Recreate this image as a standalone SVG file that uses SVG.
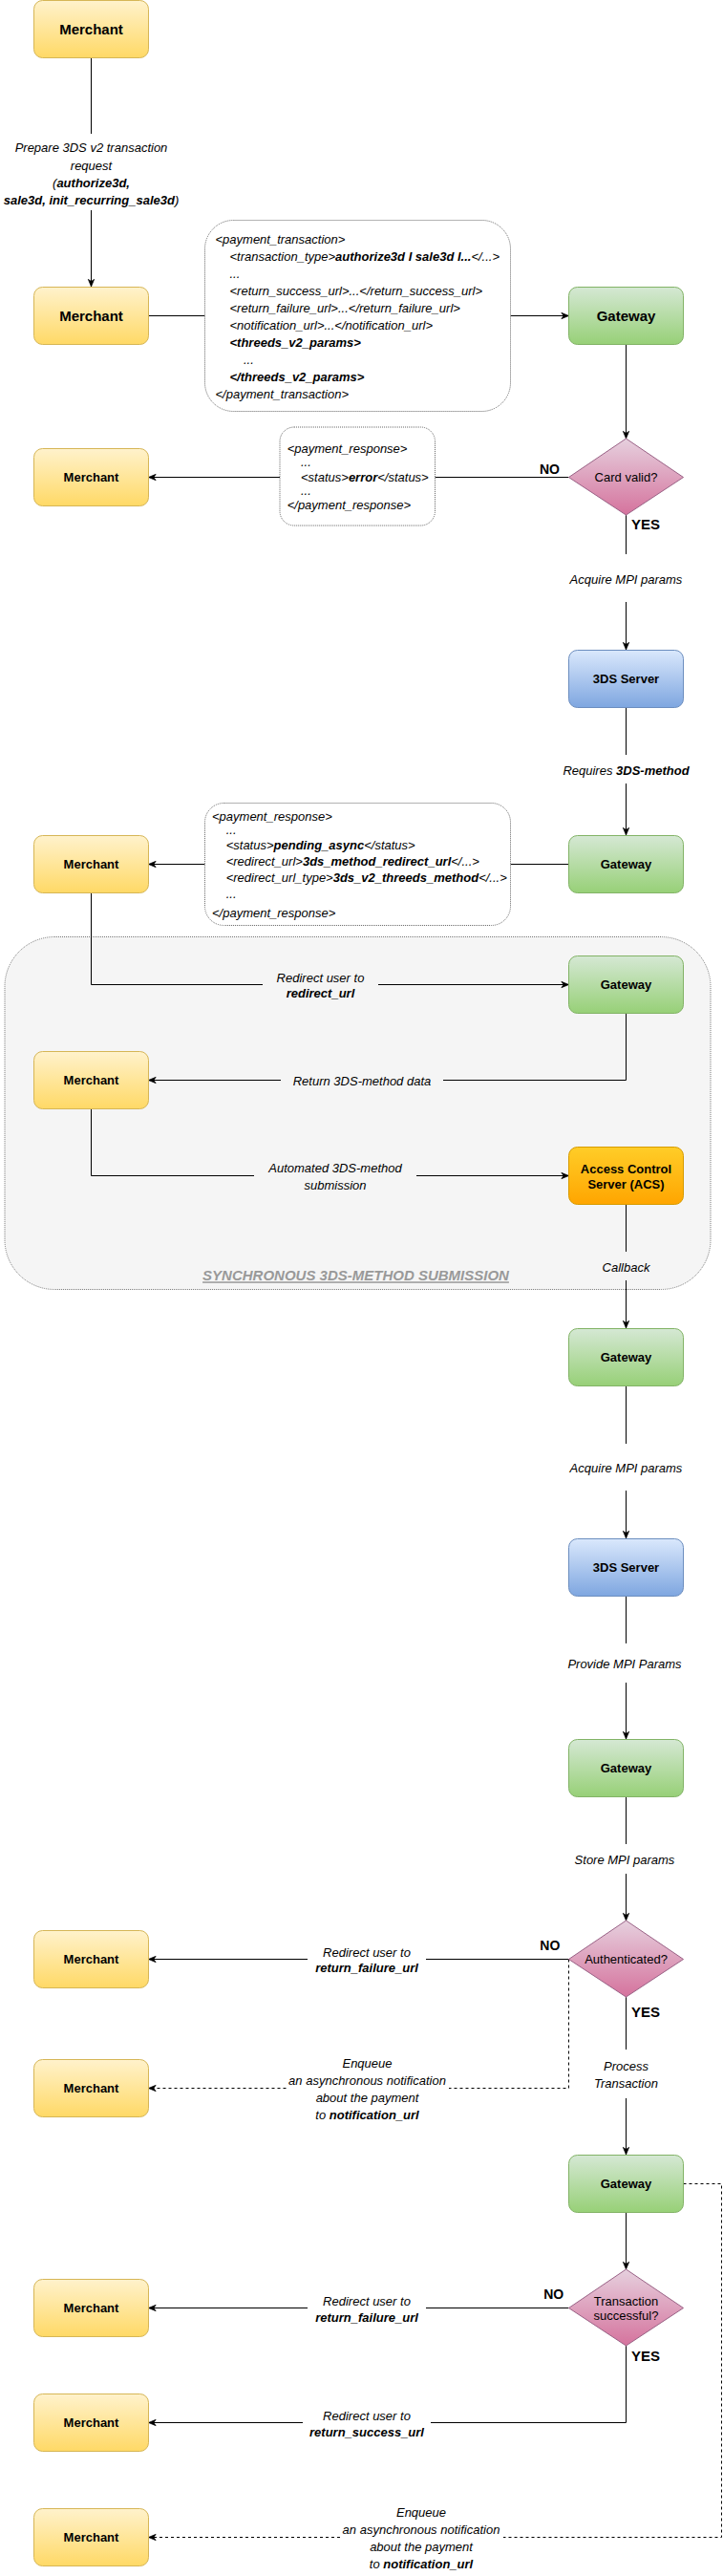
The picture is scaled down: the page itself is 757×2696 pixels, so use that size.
<svg xmlns="http://www.w3.org/2000/svg" width="757" height="2696" viewBox="0 0 757 2696">
<style>
text{font-family:"Liberation Sans",Arial,Helvetica,sans-serif;fill:#000}
.nt{font-size:13px;font-weight:bold;text-anchor:middle}
.nb{font-size:15px;font-weight:bold;text-anchor:middle}
.dt{font-size:13px;text-anchor:middle}
.lb{font-size:13px;font-style:italic;text-anchor:middle}
.cd{font-size:13px;font-style:italic}
.b{font-weight:bold}
.yn{font-weight:bold;text-anchor:middle}
.mer{fill:url(#gM);stroke:#d6b656}
.gw{fill:url(#gG);stroke:#82b366}
.srv{fill:url(#gS);stroke:#6c8ebf}
.dia{fill:url(#gD);stroke:#996185}
.acs{fill:url(#gA);stroke:#d79b00}
.code{fill:#fff;stroke:#666;stroke-dasharray:1 1}
.e{fill:none;stroke:#000;stroke-width:1}
.ea{fill:none;stroke:#000;stroke-width:1;marker-end:url(#arr)}
.d{stroke-dasharray:3 3}
</style>
<defs>
<linearGradient id="gM" x1="0" y1="0" x2="0" y2="1"><stop offset="0" stop-color="#fff2cc"/><stop offset="1" stop-color="#ffd966"/></linearGradient>
<linearGradient id="gG" x1="0" y1="0" x2="0" y2="1"><stop offset="0" stop-color="#d5e8d4"/><stop offset="1" stop-color="#97d077"/></linearGradient>
<linearGradient id="gS" x1="0" y1="0" x2="0" y2="1"><stop offset="0" stop-color="#dae8fc"/><stop offset="1" stop-color="#7ea6e0"/></linearGradient>
<linearGradient id="gD" x1="0" y1="0" x2="0" y2="1"><stop offset="0" stop-color="#e6d0de"/><stop offset="1" stop-color="#d5739d"/></linearGradient>
<linearGradient id="gA" x1="0" y1="0" x2="0" y2="1"><stop offset="0" stop-color="#ffcd28"/><stop offset="1" stop-color="#ffa500"/></linearGradient>
<marker id="arr" viewBox="0 0 10 10" refX="9.5" refY="5" markerWidth="9" markerHeight="9" orient="auto" markerUnits="userSpaceOnUse"><path d="M1,1.5 L9.5,5 L1,8.5 L3.5,5 Z" fill="#000" stroke="#000" stroke-width="0.8"/></marker>
</defs>

<g id="group-sync">
<rect x="5" y="980.5" width="739" height="369" rx="52" fill="#f5f5f5" stroke="#777" stroke-dasharray="1 1"/>
<text x="372.5" y="1340.3" font-size="15" font-weight="bold" font-style="italic" text-anchor="middle" style="fill:#999" text-decoration="underline">SYNCHRONOUS 3DS-METHOD SUBMISSION</text>
</g>

<g id="connectors">
<path class="e" d="M95.5,60.5 V140"/><path class="ea" d="M95.5,220 V300"/>
<path class="e" d="M155.5,330.5 H214.5"/><path class="ea" d="M534.5,330.5 H595.5"/>
<path class="ea" d="M655.5,360 V459"/>
<path class="e" d="M595.5,499.5 H455.5"/><path class="ea" d="M293.5,499.5 H155.5"/>
<path class="e" d="M655.5,539 V580"/><path class="ea" d="M655.5,630 V680"/>
<path class="e" d="M655.5,740 V790"/><path class="ea" d="M655.5,820 V874"/>
<path class="e" d="M595.5,904.5 H534.5"/><path class="ea" d="M214.5,904.5 H155.5"/>
<path class="e" d="M95.5,934 V1030.5 H275"/><path class="ea" d="M396,1030.5 H595.5"/>
<path class="e" d="M655.5,1060 V1130.5 H464"/><path class="ea" d="M294,1130.5 H155.5"/>
<path class="e" d="M95.5,1160 V1230.5 H266"/><path class="ea" d="M436,1230.5 H595.5"/>
<path class="e" d="M655.5,1260 V1310"/><path class="ea" d="M655.5,1340 V1390"/>
<path class="e" d="M655.5,1450 V1511"/><path class="ea" d="M655.5,1560 V1610"/>
<path class="e" d="M655.5,1670 V1720"/><path class="ea" d="M655.5,1761 V1820"/>
<path class="e" d="M655.5,1880 V1930"/><path class="ea" d="M655.5,1961 V2010"/>
<path class="e" d="M595.5,2050.5 H446"/><path class="ea" d="M322,2050.5 H155.5"/>
<path class="e d" d="M595.5,2050.5 V2185.5 H470"/><path class="ea d" d="M299.5,2185.5 H155.5"/>
<path class="e" d="M655.5,2090 V2145"/><path class="ea" d="M655.5,2196 V2255"/>
<path class="ea" d="M655.5,2315 V2375"/>
<path class="e" d="M595.5,2415.5 H446"/><path class="ea" d="M322,2415.5 H155.5"/>
<path class="e" d="M655.5,2455 V2535.5 H451"/><path class="ea" d="M317,2535.5 H155.5"/>
<path class="e d" d="M715.5,2285.5 H755.5 V2655.5 H527"/><path class="ea d" d="M356,2655.5 H155.5"/>

<text class="lb" x="95.5" y="158.5">Prepare 3DS v2 transaction</text>
<text class="lb" x="95.5" y="177.5">request</text>
<text class="lb" x="95.5" y="195.5">(<tspan class="b">authorize3d,</tspan></text>
<text class="lb" x="95.5" y="213.5"><tspan class="b">sale3d, init_recurring_sale3d</tspan>)</text>

<g id="code1">
<rect class="code" x="214.5" y="230.5" width="320" height="200" rx="30"/>
<text class="cd" x="225.5" y="255.2">&lt;payment_transaction&gt;</text>
<text class="cd" x="240.5" y="273.2">&lt;transaction_type&gt;<tspan class="b">authorize3d I sale3d I...</tspan>&lt;/...&gt;</text>
<text class="cd" x="240.5" y="291.2">...</text>
<text class="cd" x="240.5" y="309.2">&lt;return_success_url&gt;...&lt;/return_success_url&gt;</text>
<text class="cd" x="240.5" y="327.2">&lt;return_failure_url&gt;...&lt;/return_failure_url&gt;</text>
<text class="cd" x="240.5" y="345.2">&lt;notification_url&gt;...&lt;/notification_url&gt;</text>
<text class="cd b" x="240.5" y="363.2">&lt;threeds_v2_params&gt;</text>
<text class="cd" x="255" y="381.2">...</text>
<text class="cd b" x="240.5" y="399.2">&lt;/threeds_v2_params&gt;</text>
<text class="cd" x="225.5" y="417.2">&lt;/payment_transaction&gt;</text>
</g>

<text class="yn" x="575.5" y="495.5" font-size="14">NO</text>
<text class="yn" x="676" y="554.3" font-size="15">YES</text>

<g id="code2">
<rect class="code" x="293" y="447" width="162.5" height="103" rx="15"/>
<text class="cd" x="300.7" y="474.3">&lt;payment_response&gt;</text>
<text class="cd" x="315" y="488.3">...</text>
<text class="cd" x="315" y="504">&lt;status&gt;<tspan class="b">error</tspan>&lt;/status&gt;</text>
<text class="cd" x="315" y="518.3">...</text>
<text class="cd" x="300.7" y="532.7">&lt;/payment_response&gt;</text>
</g>

<text class="lb" x="655.5" y="611.2">Acquire MPI params</text>
<text class="lb" x="655.5" y="811.2">Requires <tspan class="b">3DS-method</tspan></text>

<g id="code3">
<rect class="code" x="214.5" y="840.5" width="320" height="128" rx="20"/>
<text class="cd" x="222" y="858.5">&lt;payment_response&gt;</text>
<text class="cd" x="236.7" y="873">...</text>
<text class="cd" x="236.7" y="888.5">&lt;status&gt;<tspan class="b">pending_async</tspan>&lt;/status&gt;</text>
<text class="cd" x="236.7" y="905.5">&lt;redirect_url&gt;<tspan class="b">3ds_method_redirect_url</tspan>&lt;/...&gt;</text>
<text class="cd" x="236.7" y="923.2">&lt;redirect_url_type&gt;<tspan class="b">3ds_v2_threeds_method</tspan>&lt;/...&gt;</text>
<text class="cd" x="236.7" y="940">...</text>
<text class="cd" x="222" y="959.5">&lt;/payment_response&gt;</text>
</g>

<text class="lb" x="335.5" y="1027.8">Redirect user to</text>
<text class="lb b" x="335.5" y="1043.8">redirect_url</text>
<text class="lb" x="379" y="1135.5">Return 3DS-method data</text>
<text class="lb" x="351" y="1227.2">Automated 3DS-method</text>
<text class="lb" x="351" y="1245.2">submission</text>
<text class="lb" x="655.5" y="1331.2">Callback</text>
<text class="lb" x="655.5" y="1541.2">Acquire MPI params</text>
<text class="lb" x="654" y="1746.2">Provide MPI Params</text>
<text class="lb" x="654" y="1951.2">Store MPI params</text>

<text class="yn" x="575.8" y="2040.7" font-size="14">NO</text>
<text class="lb" x="384" y="2047.8">Redirect user to</text>
<text class="lb b" x="384" y="2064.2">return_failure_url</text>
<text class="lb" x="384.5" y="2164.2">Enqueue</text>
<text class="lb" x="384.5" y="2182.2">an asynchronous notification</text>
<text class="lb" x="384.5" y="2199.8">about the payment</text>
<text class="lb" x="384.5" y="2218.2">to <tspan class="b">notification_url</tspan></text>
<text class="yn" x="676" y="2111" font-size="15">YES</text>
<text class="lb" x="655.5" y="2167.2">Process</text>
<text class="lb" x="655.5" y="2184.8">Transaction</text>

<text class="yn" x="579.7" y="2406" font-size="14">NO</text>
<text class="lb" x="384" y="2413.2">Redirect user to</text>
<text class="lb b" x="384" y="2429.5">return_failure_url</text>
<text class="yn" x="676" y="2471" font-size="15">YES</text>
<text class="lb" x="384" y="2533.2">Redirect user to</text>
<text class="lb b" x="384" y="2549.5">return_success_url</text>
<text class="lb" x="441" y="2634.2">Enqueue</text>
<text class="lb" x="441" y="2652.2">an asynchronous notification</text>
<text class="lb" x="441" y="2670.2">about the payment</text>
<text class="lb" x="441" y="2688.2">to <tspan class="b">notification_url</tspan></text>
</g>

<g id="merchant-1"><rect class="mer" x="35.5" y="0.5" width="120" height="60" rx="9"/><text class="nb" x="95.5" y="36">Merchant</text></g>
<g id="merchant-2"><rect class="mer" x="35.5" y="300.5" width="120" height="60" rx="9"/><text class="nb" x="95.5" y="335.8">Merchant</text></g>
<g id="gateway-1"><rect class="gw" x="595.5" y="300.5" width="120" height="60" rx="9"/><text class="nb" x="655.5" y="335.8">Gateway</text></g>
<g id="card-valid"><polygon class="dia" points="655.5,459 715.5,499.5 655.5,539 595.5,499.5"/><text class="dt" x="655.5" y="504">Card valid?</text></g>
<g id="merchant-3"><rect class="mer" x="35.5" y="469.5" width="120" height="60" rx="9"/><text class="nt" x="95.5" y="504">Merchant</text></g>
<g id="server-1"><rect class="srv" x="595.5" y="680.5" width="120" height="60" rx="9"/><text class="nt" x="655.5" y="715">3DS Server</text></g>
<g id="gateway-2"><rect class="gw" x="595.5" y="874.5" width="120" height="60" rx="9"/><text class="nt" x="655.5" y="909">Gateway</text></g>
<g id="merchant-4"><rect class="mer" x="35.5" y="874.5" width="120" height="60" rx="9"/><text class="nt" x="95.5" y="909">Merchant</text></g>
<g id="gateway-3"><rect class="gw" x="595.5" y="1000.5" width="120" height="60" rx="9"/><text class="nt" x="655.5" y="1035">Gateway</text></g>
<g id="merchant-5"><rect class="mer" x="35.5" y="1100.5" width="120" height="60" rx="9"/><text class="nt" x="95.5" y="1135">Merchant</text></g>
<g id="acs"><rect class="acs" x="595.5" y="1200.5" width="120" height="60" rx="9"/><text class="nt" x="655.5" y="1228.2">Access Control</text><text class="nt" x="655.5" y="1243.5">Server (ACS)</text></g>
<g id="gateway-4"><rect class="gw" x="595.5" y="1390.5" width="120" height="60" rx="9"/><text class="nt" x="655.5" y="1425">Gateway</text></g>
<g id="server-2"><rect class="srv" x="595.5" y="1610.5" width="120" height="60" rx="9"/><text class="nt" x="655.5" y="1645">3DS Server</text></g>
<g id="gateway-5"><rect class="gw" x="595.5" y="1820.5" width="120" height="60" rx="9"/><text class="nt" x="655.5" y="1855">Gateway</text></g>
<g id="authenticated"><polygon class="dia" points="655.5,2010 715.5,2050.5 655.5,2090 595.5,2050.5"/><text class="dt" x="655.5" y="2055">Authenticated?</text></g>
<g id="merchant-6"><rect class="mer" x="35.5" y="2020.5" width="120" height="60" rx="9"/><text class="nt" x="95.5" y="2055">Merchant</text></g>
<g id="merchant-7"><rect class="mer" x="35.5" y="2155.5" width="120" height="60" rx="9"/><text class="nt" x="95.5" y="2190">Merchant</text></g>
<g id="gateway-6"><rect class="gw" x="595.5" y="2255.5" width="120" height="60" rx="9"/><text class="nt" x="655.5" y="2290">Gateway</text></g>
<g id="tx-successful"><polygon class="dia" points="655.5,2375 715.5,2415.5 655.5,2455 595.5,2415.5"/><text class="dt" x="655.5" y="2413.2">Transaction</text><text class="dt" x="655.5" y="2428.2">successful?</text></g>
<g id="merchant-8"><rect class="mer" x="35.5" y="2385.5" width="120" height="60" rx="9"/><text class="nt" x="95.5" y="2420">Merchant</text></g>
<g id="merchant-9"><rect class="mer" x="35.5" y="2505.5" width="120" height="60" rx="9"/><text class="nt" x="95.5" y="2540">Merchant</text></g>
<g id="merchant-10"><rect class="mer" x="35.5" y="2625.5" width="120" height="60" rx="9"/><text class="nt" x="95.5" y="2660">Merchant</text></g>
</svg>
